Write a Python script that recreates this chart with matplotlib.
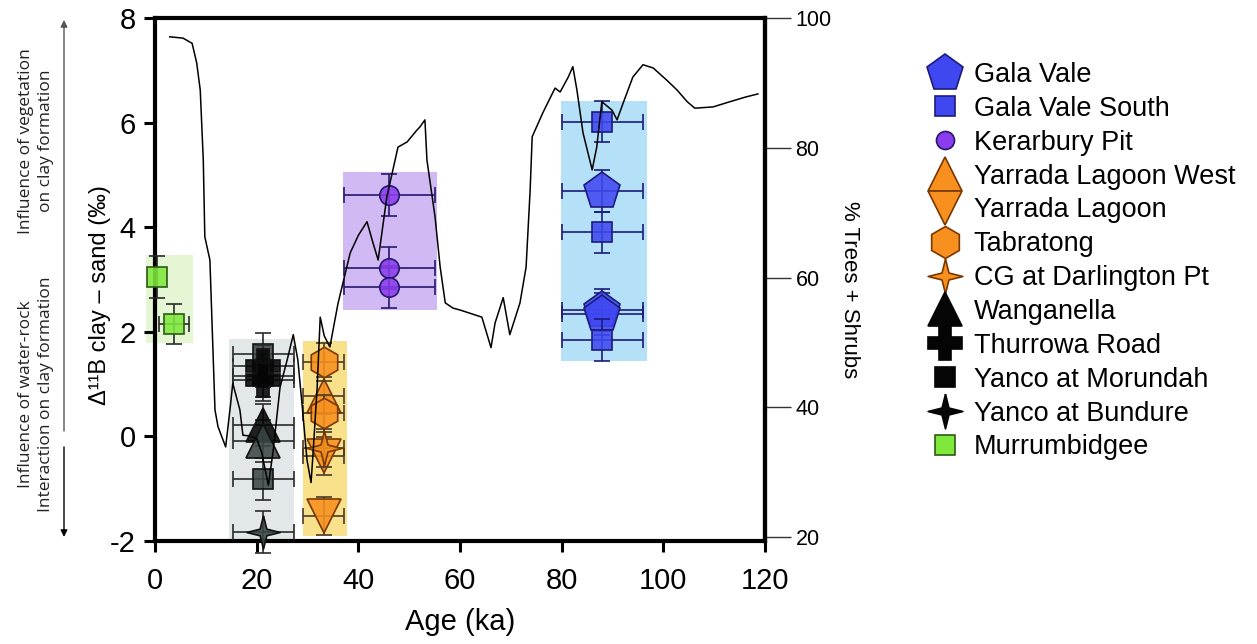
import matplotlib
matplotlib.use('Agg')
import matplotlib.pyplot as plt
from matplotlib.colors import to_rgba
from matplotlib.lines import Line2D
from matplotlib.patches import Rectangle

plt.rcParams['font.family'] = ['Liberation Sans', 'DejaVu Sans']
plt.rcParams['axes.unicode_minus'] = False

# --- boron isotope data: age (ka), delta11B clay - sand (permil) ---
gala_vale_age = [88.0, 88.0, 88.0]
gala_vale_d11b = [4.70, 2.42, 2.34]
gala_vale_south_age = [88.0, 88.0, 88.0]
gala_vale_south_d11b = [6.02, 3.90, 1.85]
kerarbury_age = [46.1, 46.1, 46.1]
kerarbury_d11b = [4.61, 3.22, 2.85]
yarrada_west_age = [33.2]
yarrada_west_d11b = [0.78]
yarrada_age = [33.2, 33.2]
yarrada_d11b = [-0.38, -1.52]
tabratong_age = [33.2, 33.2]
tabratong_d11b = [1.42, 0.44]
darlington_age = [33.2]
darlington_d11b = [-0.22]
wanganella_age = [21.3, 21.3]
wanganella_d11b = [0.22, -0.08]
thurrowa_age = [21.3, 21.3]
thurrowa_d11b = [1.35, 1.08]
morundah_age = [21.3, 21.3, 21.3]
morundah_d11b = [1.58, 1.15, -0.82]
bundure_age = [21.3]
bundure_d11b = [-1.82]
murrumbidgee_age = [0.3, 3.7]
murrumbidgee_d11b = [3.05, 2.15]

# uncertainties
blue_age_err = 8.0
purple_age_err = 9.0
orange_age_err = 4.0
grey_age_err = 6.0
murrumbidgee_age_err = [0.0, 3.0]
d11b_err = 0.4
orange_d11b_err = 0.36

# shaded age ranges (x0, x1, y0, y1)
range_x0 = [-1.8, 14.6, 29.1, 37.0, 79.9]
range_x1 = [7.5, 27.4, 37.8, 55.5, 96.8]
range_y0 = [1.78, -2.0, -1.9, 2.41, 1.45]
range_y1 = [3.46, 1.87, 1.82, 5.05, 6.42]

# pollen record: % trees + shrubs
pollen_age = [2.9, 5.5, 7.3, 8.2, 8.9, 9.5, 9.8, 10.8, 11.8, 12.4, 13.9, 14.8,
              15.3, 16.7, 17.3, 18.5, 20.0, 21.0, 22.3, 23.2, 24.6, 26.0, 27.2,
              28.1, 28.9, 29.9, 30.7, 31.1, 31.9, 32.5, 33.3, 34.4, 36.0, 38.4,
              40.0, 41.7, 42.9, 43.9, 45.6, 47.8, 49.6, 51.5, 52.1, 53.1, 53.5,
              55.1, 56.1, 57.1, 58.6, 60.0, 64.3, 66.1, 66.9, 68.5, 69.8, 71.8,
              73.0, 73.8, 74.2, 76.3, 78.7, 79.7, 81.3, 82.2, 83.0, 84.2, 86.0,
              86.9, 87.9, 89.9, 90.9, 92.1, 94.0, 96.0, 98.0, 100.7, 102.7,
              104.7, 106.2, 109.8, 113.1, 116.1, 118.6]
pollen_pct = [97.1, 96.9, 96.1, 93.1, 88.9, 78.1, 66.3, 62.7, 39.6, 37.0, 33.9, 40.0,
              43.7, 39.6, 35.7, 35.6, 35.2, 33.0, 28.0, 33.0, 43.1, 47.3, 51.2,
              47.3, 40.7, 31.9, 28.4, 33.0, 43.1, 53.9, 51.0, 49.3, 56.0, 63.8,
              66.5, 68.6, 65.3, 62.7, 72.4, 80.1, 80.9, 82.7, 83.2, 84.3, 78.1,
              69.3, 61.6, 56.1, 55.3, 55.0, 53.9, 49.2, 53.0, 56.9, 51.2, 56.1,
              61.6, 73.5, 81.7, 85.4, 89.2, 88.6, 90.9, 92.5, 88.9, 82.3, 76.6,
              80.1, 87.1, 85.8, 84.3, 86.9, 90.9, 92.8, 92.3, 90.4, 88.9,
              87.1, 86.1, 86.3, 87.1, 87.8, 88.3]

# colours
C_BLUE, E_BLUE = '#3f48f0', '#1c1c7c'
C_PURPLE, E_PURPLE = '#8b3cec', '#25186e'
C_ORANGE, E_ORANGE = '#f7901e', '#7a3800'
C_BLACK, C_GREY = '#050505', '#3c4646'
C_GREEN, E_GREEN = '#7ee83c', '#2d5a14'
range_colors = ['#e5f6d4', '#e2e7e9', '#f9e18c', '#d1b9f4', '#b4e1f7']
STAR4 = [(0, 1), (0.2, 0.2), (1, 0), (0.2, -0.2), (0, -1), (-0.2, -0.2),
         (-1, 0), (-0.2, 0.2), (0, 1)]

fig = plt.figure(figsize=(12.57, 6.44), dpi=100)
ax = fig.add_axes([155 / 1257, 1 - 541 / 644, 610 / 1257, 523 / 644])

for x0, x1, y0, y1, c in zip(range_x0, range_x1, range_y0, range_y1, range_colors):
    ax.add_patch(Rectangle((x0, y0), x1 - x0, y1 - y0, facecolor=c,
                           edgecolor='none', zorder=1, clip_on=False))


def plot_site(age, vals, xerr, yerr, marker, ms, faces, edge, ecolor, z):
    ax.errorbar(age, vals, xerr=xerr, yerr=yerr, fmt='none', ecolor=ecolor,
                elinewidth=1.2, capsize=6, capthick=1.2, zorder=z, clip_on=False)
    if isinstance(faces, str):
        faces = [faces] * len(age)
    for a, v, f in zip(age, vals, faces):
        ax.plot(a, v, linestyle='none', marker=marker, ms=ms,
                mfc=to_rgba(f, 0.88), mec=edge, mew=1.2, zorder=z + 0.5,
                clip_on=False)


plot_site(murrumbidgee_age, murrumbidgee_d11b, murrumbidgee_age_err,
          [0.4, 0.39], 's', 14, C_GREEN, E_GREEN, '#2a2a2a', 3)
plot_site(morundah_age, morundah_d11b, grey_age_err, d11b_err, 's', 14,
          [C_GREY, C_BLACK, C_GREY], '#111111', '#2a2a2a', 3)
plot_site(bundure_age, bundure_d11b, grey_age_err, d11b_err, STAR4, 24,
          C_GREY, '#111111', '#2a2a2a', 3)
plot_site(wanganella_age, wanganella_d11b, grey_age_err, d11b_err, '^', 24,
          [C_BLACK, C_GREY], '#111111', '#2a2a2a', 4)
plot_site(thurrowa_age, thurrowa_d11b, grey_age_err, d11b_err, 'P', 24,
          C_BLACK, '#111111', '#2a2a2a', 5)
plot_site(yarrada_age, yarrada_d11b, orange_age_err, orange_d11b_err, 'v', 25,
          C_ORANGE, E_ORANGE, '#4a3a2a', 3)
plot_site(darlington_age, darlington_d11b, orange_age_err, orange_d11b_err,
          STAR4, 25, C_ORANGE, E_ORANGE, '#4a3a2a', 4)
plot_site(yarrada_west_age, yarrada_west_d11b, orange_age_err, orange_d11b_err,
          '^', 25, C_ORANGE, E_ORANGE, '#4a3a2a', 3)
plot_site(tabratong_age, tabratong_d11b, orange_age_err, orange_d11b_err, 'h', 22,
          C_ORANGE, E_ORANGE, '#4a3a2a', 4)
plot_site(kerarbury_age, kerarbury_d11b, purple_age_err, d11b_err, 'o', 14,
          C_PURPLE, E_PURPLE, E_PURPLE, 3)
plot_site(gala_vale_age, gala_vale_d11b, blue_age_err, d11b_err, 'p', 28,
          C_BLUE, E_BLUE, E_BLUE, 3)
plot_site(gala_vale_south_age, gala_vale_south_d11b, blue_age_err, d11b_err,
          's', 14, C_BLUE, E_BLUE, E_BLUE, 4)

ax.set_xlim(0, 120)
ax.set_ylim(-2, 8)
ax.set_xticks([0, 20, 40, 60, 80, 100, 120])
ax.set_yticks([-2, 0, 2, 4, 6, 8])
ax.tick_params(direction='out', length=8, width=2.2, labelsize=21)
ax.tick_params(axis='x', pad=11)
ax.tick_params(axis='y', pad=6)
for sp in ax.spines.values():
    sp.set_linewidth(3)
ax.set_xlabel('Age (ka)', fontsize=21, va='center')
ax.xaxis.set_label_coords(0.5, -0.155)
ax.set_ylabel('Δ¹¹B clay – sand (‰)', fontsize=17, va='center')
ax.yaxis.set_label_coords(-0.090, 0.47)

# pollen curve on the right axis
ax2 = ax.twinx()
ax2.plot(pollen_age, pollen_pct, color='black', lw=1.1)
ax2.set_ylim(19.4, 100)
ax2.set_yticks([20, 40, 60, 80, 100])
ax2.tick_params(direction='out', length=19, width=1, labelsize=15.5, pad=3,
                color='#333333')
for name in ['left', 'top', 'bottom']:
    ax2.spines[name].set_visible(False)
ax2.spines['right'].set_linewidth(3)
ax2.set_ylabel('% Trees + Shrubs', fontsize=16, rotation=270, va='center')
ax2.yaxis.set_label_coords(1.139, 0.48)

# legend
legend_items = [
    ('Gala Vale', 'p', 28, C_BLUE, E_BLUE),
    ('Gala Vale South', 's', 14, C_BLUE, E_BLUE),
    ('Kerarbury Pit', 'o', 13, C_PURPLE, E_PURPLE),
    ('Yarrada Lagoon West', '^', 24, C_ORANGE, E_ORANGE),
    ('Yarrada Lagoon', 'v', 24, C_ORANGE, E_ORANGE),
    ('Tabratong', 'h', 23, C_ORANGE, E_ORANGE),
    ('CG at Darlington Pt', STAR4, 25, C_ORANGE, E_ORANGE),
    ('Wanganella', '^', 24, C_BLACK, C_BLACK),
    ('Thurrowa Road', 'P', 25, C_BLACK, C_BLACK),
    ('Yanco at Morundah', 's', 14, C_BLACK, C_BLACK),
    ('Yanco at Bundure', STAR4, 25, C_BLACK, C_BLACK),
    ('Murrumbidgee', 's', 14, C_GREEN, E_GREEN),
]
handles = [Line2D([], [], linestyle='none', marker=m, ms=s, mfc=f, mec=e, mew=1.2)
           for _, m, s, f, e in legend_items]
labels = [item[0] for item in legend_items]
fig.legend(handles, labels, loc='upper left',
           bbox_to_anchor=(925 / 1257, 1 - 62 / 644), frameon=False,
           fontsize=19.5, handlelength=1.5, handletextpad=0.3,
           labelspacing=0.29, borderpad=0, borderaxespad=0)

# interpretation notes on the far left
fig.text(36 / 1257, 1 - 141 / 644, 'Influence of vegetation\non clay formation',
         rotation=90, ha='center', va='center', fontsize=12.5,
         family=['Open Sans', 'DejaVu Sans'], linespacing=1.4, color='#222222')
fig.text(36 / 1257, 1 - 394 / 644, 'Influence of water-rock\nInteraction on clay formation',
         rotation=90, ha='center', va='center', fontsize=12.5,
         family=['Open Sans', 'DejaVu Sans'], linespacing=1.4, color='#222222')
ax.annotate('', xy=(64 / 1257, 1 - 20 / 644), xytext=(64 / 1257, 1 - 431 / 644),
            xycoords='figure fraction', textcoords='figure fraction',
            arrowprops=dict(arrowstyle='-|>', color='#555555', lw=1,
                            mutation_scale=10, shrinkA=0, shrinkB=0))
ax.annotate('', xy=(64 / 1257, 1 - 537 / 644), xytext=(64 / 1257, 1 - 447 / 644),
            xycoords='figure fraction', textcoords='figure fraction',
            arrowprops=dict(arrowstyle='-|>', color='black', lw=1,
                            mutation_scale=10, shrinkA=0, shrinkB=0))

fig.savefig('out.png', dpi=100, facecolor='white')
